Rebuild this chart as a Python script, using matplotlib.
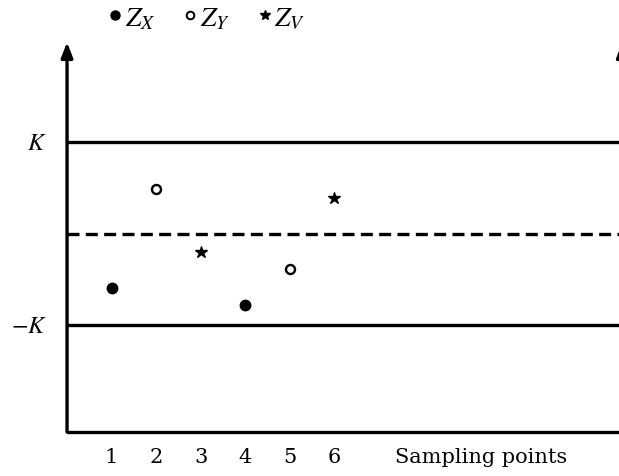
import matplotlib
matplotlib.use("Agg")
import matplotlib.pyplot as plt
from matplotlib.lines import Line2D

# Data
sample_ticks = [1, 2, 3, 4, 5, 6]
zx_x = [1, 4]
zx_y = [-0.60, -0.78]
zy_x = [2, 5]
zy_y = [0.49, -0.39]
zv_x = [3, 6]
zv_y = [-0.20, 0.39]
k_level = 1.0
center_level = 0.0

plt.rcParams['mathtext.fontset'] = 'stix'

fig = plt.figure(figsize=(6.19, 4.77), dpi=100)
ax = fig.add_axes([0, 0, 1, 1])
ax.set_xlim(-1.506, 12.40)
ax.set_ylim(-2.65, 2.563)
ax.axis('off')

x0, xr = 0.0, 12.6
ybot, ytop = -2.17, 2.09
lw = 2.4
arrow = dict(arrowstyle='-|>,head_length=0.9,head_width=0.35', color='black', lw=lw,
             shrinkA=0, shrinkB=0)

# axes
ax.plot([x0, xr], [ybot, ybot], color='black', lw=lw, solid_capstyle='butt', zorder=2)
ax.annotate('', xy=(x0, ytop), xytext=(x0, ybot), arrowprops=arrow)
# partially visible right-hand arrow
ax.annotate('', xy=(12.475, ytop), xytext=(12.475, 1.5), arrowprops=arrow,
            annotation_clip=False)

# control limits
ax.plot([x0, xr], [k_level, k_level], color='black', lw=lw, solid_capstyle='butt')
ax.plot([x0, xr], [-k_level, -k_level], color='black', lw=lw, solid_capstyle='butt')
ax.plot([x0, xr], [center_level, center_level], color='black', lw=lw, ls=(0, (3.6, 1.9)))

ax.text(-0.45, k_level, r'$K$', fontsize=17.5, ha='right', va='center')
ax.text(-0.45, -k_level, r'$-K$', fontsize=17.5, ha='right', va='center')

# points
ax.plot(zx_x, zx_y, 'o', color='black', ms=7.5, ls='none')
ax.plot(zy_x, zy_y, 'o', mfc='white', mec='black', mew=1.7, ms=6.5, ls='none')
ax.plot(zv_x, zv_y, '*', color='black', ms=9, ls='none')

# tick labels
for t in sample_ticks:
    ax.text(t, -2.44, str(t), fontsize=15, ha='center', va='center', family='DejaVu Serif')
ax.text(9.3, -2.44, 'Sampling points', fontsize=15, ha='center', va='center', family='DejaVu Serif')

# legend
handles = [Line2D([], [], marker='o', color='black', ms=6.5, ls='none'),
           Line2D([], [], marker='o', mfc='white', mec='black', mew=1.4, ms=5.5, ls='none'),
           Line2D([], [], marker='*', color='black', ms=7.5, ls='none')]
leg = ax.legend(handles, [r'$Z_X$', r'$Z_Y$', r'$Z_V$'], loc='center',
                bbox_to_anchor=(207 / 619, 1 - 18 / 477), ncol=3, frameon=False,
                fontsize=20, handlelength=0.5, handletextpad=0.1, columnspacing=1.0,
                borderaxespad=0)

fig.savefig('out.png', dpi=100)
